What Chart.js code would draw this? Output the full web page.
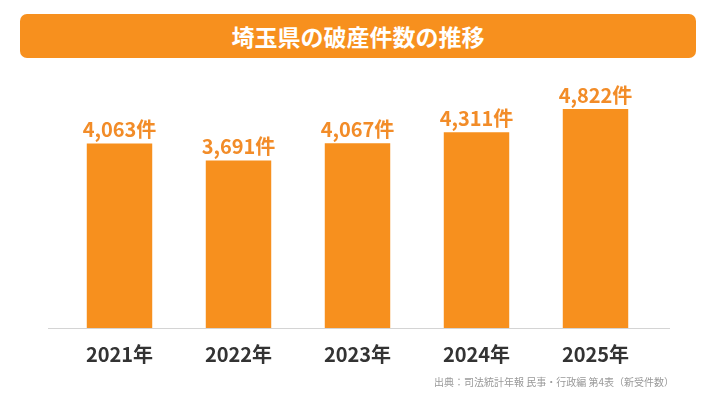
<!DOCTYPE html>
<html lang="ja">
<head>
<meta charset="utf-8">
<script src="https://cdn.jsdelivr.net/npm/chart.js@4/dist/chart.umd.min.js"></script>
<style>
  html, body { margin: 0; padding: 0; background: #fff; }
  #wrap { position: relative; width: 716px; height: 403px; overflow: hidden; }
  #title {
    position: absolute; left: 20px; top: 14px; width: 676px; height: 44px;
    background: #F7901E; border-radius: 7px; color: #fff;
    font: bold 23px "Noto Sans CJK JP", sans-serif; line-height: 44px; text-align: center;
  }
  #src {
    position: absolute; right: 42px; top: 374px; color: #999;
    font: 10px "Noto Sans CJK JP", sans-serif;
  }
  canvas { position: absolute; left: 0; top: 0; }
</style>
</head>
<body>
<div id="wrap">
  <canvas id="chart" width="716" height="403"></canvas>
  <div id="title">埼玉県の破産件数の推移</div>
  <div id="src">出典：司法統計年報 民事・行政編 第4表（新受件数）</div>
</div>
<script>
// データ
const years = ['2021年', '2022年', '2023年', '2024年', '2025年'];
const cases = [4063, 3691, 4067, 4311, 4822];
const unit = '件';

const orange = '#F7901E';

// 棒の上に件数を描く
const valueLabels = {
  id: 'valueLabels',
  afterDatasetsDraw(chart) {
    const ctx = chart.ctx;
    const meta = chart.getDatasetMeta(0);
    ctx.save();
    ctx.fillStyle = '#F28C28';
    ctx.font = 'bold 20px "Noto Sans CJK JP", sans-serif';
    ctx.textAlign = 'center';
    ctx.textBaseline = 'bottom';
    meta.data.forEach((bar, i) => {
      ctx.fillText(cases[i].toLocaleString('en-US') + unit, bar.x, bar.y - 4);
    });
    ctx.restore();
  }
};

// 下の基準線
const baseLine = {
  id: 'baseLine',
  beforeDatasetsDraw(chart) {
    const ctx = chart.ctx;
    const y = chart.scales.y.getPixelForValue(0);
    ctx.save();
    ctx.strokeStyle = '#d4d4d4';
    ctx.lineWidth = 1;
    ctx.beginPath();
    ctx.moveTo(48, y + 0.5);
    ctx.lineTo(670, y + 0.5);
    ctx.stroke();
    ctx.restore();
  }
};

new Chart(document.getElementById('chart'), {
  type: 'bar',
  data: {
    labels: years,
    datasets: [{
      data: cases,
      backgroundColor: orange,
      barPercentage: 0.55,
      categoryPercentage: 1
    }]
  },
  options: {
    responsive: false,
    animation: false,
    layout: { padding: { left: 60, right: 61, top: 101, bottom: 31 } },
    plugins: { legend: { display: false }, tooltip: { enabled: false } },
    scales: {
      x: {
        grid: { display: false },
        border: { display: false },
        ticks: {
          color: '#333',
          padding: 6,
          font: { family: '"Noto Sans CJK JP", sans-serif', size: 20, weight: 'bold' }
        }
      },
      y: {
        display: false,
        min: 0,
        max: 5000
      }
    }
  },
  plugins: [valueLabels, baseLine]
});
</script>
</body>
</html>
